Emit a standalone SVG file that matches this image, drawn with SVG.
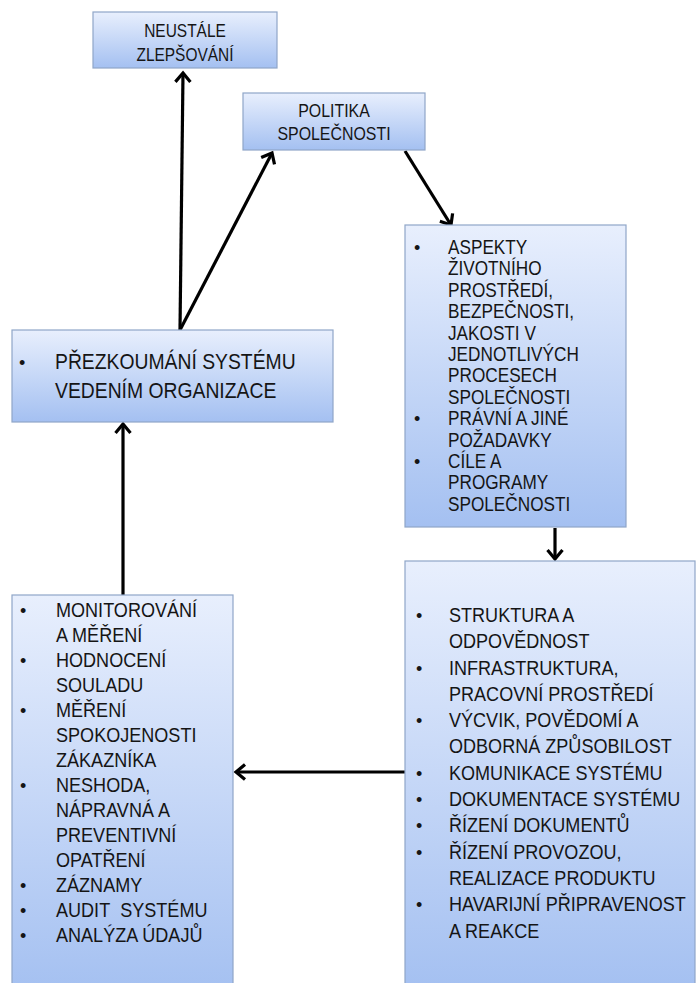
<svg xmlns="http://www.w3.org/2000/svg" width="696" height="983" viewBox="0 0 696 983">
<style>
.box{fill:url(#g);stroke:#8fa6c8;stroke-width:1.2}
.t{font-family:"Liberation Sans",Arial,sans-serif;fill:#151515;text-transform:uppercase}
.b{font-family:"Liberation Sans",Arial,sans-serif;fill:#151515;font-size:18px}
.c{stroke:#000;stroke-width:3.2;fill:none;marker-end:url(#ah)}
</style>
<defs>
<linearGradient id="g" x1="0" y1="0" x2="0" y2="1">
<stop offset="0" stop-color="#e8effd"/>
<stop offset="1" stop-color="#a4c0f1"/>
</linearGradient>
<marker id="ah" viewBox="-14 -10 16 20" refX="-1" refY="0" markerWidth="16" markerHeight="20" markerUnits="userSpaceOnUse" orient="auto">
<path d="M-10,-7.5 L-1,0 L-10,7.5" fill="none" stroke="#000" stroke-width="3.2" stroke-linejoin="miter"/>
</marker>
</defs>
<rect width="696" height="983" fill="#fff"/>
<g id="connectors">
<line class="c" x1="180" y1="330" x2="183" y2="73"/>
<line class="c" x1="180" y1="330" x2="272" y2="153"/>
<line class="c" x1="405" y1="151" x2="451" y2="225"/>
<line class="c" x1="555" y1="528" x2="555" y2="559"/>
<line class="c" x1="405" y1="772" x2="236" y2="772"/>
<line class="c" x1="123" y1="595" x2="123" y2="424"/>
</g>
<g id="n1">
<rect class="box" x="93" y="12" width="184" height="56"/>
<text class="t" font-size="18" text-anchor="middle" transform="translate(185,0) scale(0.86,1)"><tspan x="0" y="37">NEUSTÁLE</tspan><tspan x="0" y="61">ZLEPŠOVÁNÍ</tspan></text>
</g>
<g id="n2">
<rect class="box" x="243" y="93" width="182" height="57"/>
<text class="t" font-size="18.5" text-anchor="middle" transform="translate(334,0) scale(0.86,1)"><tspan x="0" y="117">POLITIKA</tspan><tspan x="0" y="140">SPOLEČNOSTI</tspan></text>
</g>
<g id="n3">
<rect class="box" x="405" y="225" width="221" height="302"/>
<text class="b" x="414" y="254">•</text>
<text class="b" x="414" y="425.2">•</text>
<text class="b" x="414" y="468">•</text>
<text class="t" font-size="20" transform="translate(448,0) scale(0.86,1)"><tspan x="0" y="254">ASPEKTY</tspan><tspan x="0" y="275.4">ŽIVOTNÍHO</tspan><tspan x="0" y="296.8">PROSTŘEDÍ,</tspan><tspan x="0" y="318.2">BEZPEČNOSTI,</tspan><tspan x="0" y="339.6">JAKOSTI V</tspan><tspan x="0" y="361">JEDNOTLIVÝCH</tspan><tspan x="0" y="382.4">PROCESECH</tspan><tspan x="0" y="403.8">SPOLEČNOSTI</tspan><tspan x="0" y="425.2">PRÁVNÍ A JINÉ</tspan><tspan x="0" y="446.6">POŽADAVKY</tspan><tspan x="0" y="468">CÍLE A</tspan><tspan x="0" y="489.4">PROGRAMY</tspan><tspan x="0" y="510.8">SPOLEČNOSTI</tspan></text>
</g>
<g id="n4">
<rect class="box" x="12" y="330" width="321" height="92"/>
<text class="b" x="19" y="369">•</text>
<text class="t" font-size="22.5" transform="translate(55,0) scale(0.86,1)"><tspan x="0" y="369">PŘEZKOUMÁNÍ SYSTÉMU</tspan><tspan x="0" y="398">VEDENÍM ORGANIZACE</tspan></text>
</g>
<g id="n5">
<rect class="box" x="12" y="595" width="221" height="400"/>
<text class="b" x="20" y="617">•</text>
<text class="b" x="20" y="667">•</text>
<text class="b" x="20" y="717">•</text>
<text class="b" x="20" y="792">•</text>
<text class="b" x="20" y="892">•</text>
<text class="b" x="20" y="917">•</text>
<text class="b" x="20" y="942">•</text>
<text class="t" font-size="21" transform="translate(56,0) scale(0.86,1)"><tspan x="0" y="617">MONITOROVÁNÍ</tspan><tspan x="0" y="642">A MĚŘENÍ</tspan><tspan x="0" y="667">HODNOCENÍ</tspan><tspan x="0" y="692">SOULADU</tspan><tspan x="0" y="717">MĚŘENÍ</tspan><tspan x="0" y="742">SPOKOJENOSTI</tspan><tspan x="0" y="767">ZÁKAZNÍKA</tspan><tspan x="0" y="792">NESHODA,</tspan><tspan x="0" y="817">NÁPRAVNÁ A</tspan><tspan x="0" y="842">PREVENTIVNÍ</tspan><tspan x="0" y="867">OPATŘENÍ</tspan><tspan x="0" y="892">ZÁZNAMY</tspan><tspan x="0" y="917">AUDIT&#160; SYSTÉMU</tspan><tspan x="0" y="942">ANALÝZA ÚDAJŮ</tspan></text>
</g>
<g id="n6">
<rect class="box" x="405" y="561" width="290" height="430"/>
<text class="b" x="416" y="622">•</text>
<text class="b" x="416" y="674.6">•</text>
<text class="b" x="416" y="727.2">•</text>
<text class="b" x="416" y="779.8">•</text>
<text class="b" x="416" y="806.1">•</text>
<text class="b" x="416" y="832.4">•</text>
<text class="b" x="416" y="858.7">•</text>
<text class="b" x="416" y="911.3">•</text>
<text class="t" font-size="21" transform="translate(449,0) scale(0.86,1)"><tspan x="0" y="622">STRUKTURA A</tspan><tspan x="0" y="648.3">ODPOVĚDNOST</tspan><tspan x="0" y="674.6">INFRASTRUKTURA,</tspan><tspan x="0" y="700.9">PRACOVNÍ PROSTŘEDÍ</tspan><tspan x="0" y="727.2">VÝCVIK, POVĚDOMÍ A</tspan><tspan x="0" y="753.5">ODBORNÁ ZPŮSOBILOST</tspan><tspan x="0" y="779.8">KOMUNIKACE SYSTÉMU</tspan><tspan x="0" y="806.1">DOKUMENTACE SYSTÉMU</tspan><tspan x="0" y="832.4">ŘÍZENÍ DOKUMENTŮ</tspan><tspan x="0" y="858.7">ŘÍZENÍ PROVOZOU,</tspan><tspan x="0" y="885">REALIZACE PRODUKTU</tspan><tspan x="0" y="911.3">HAVARIJNÍ PŘIPRAVENOST</tspan><tspan x="0" y="937.6">A REAKCE</tspan></text>
</g>
</svg>
